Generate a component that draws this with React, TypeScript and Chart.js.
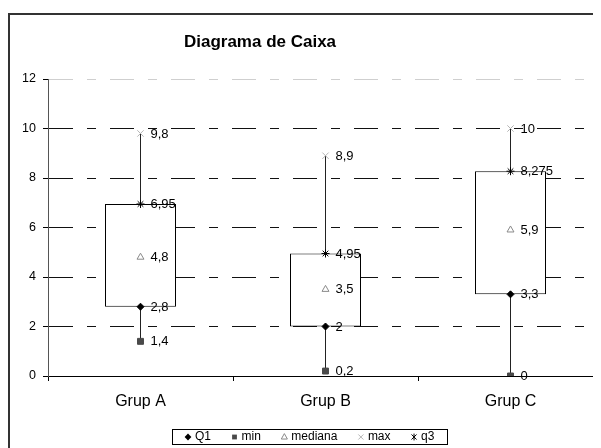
import React, { useEffect, useRef } from 'react';
import { Chart, registerables } from 'chart.js';

Chart.register(...registerables);

const categories = ['Grup A', 'Grup B', 'Grup C'];
const q1 = [2.8, 2, 3.3];
const minV = [1.4, 0.2, 0];
const mediana = [4.8, 3.5, 5.9];
const maxV = [9.8, 8.9, 10];
const q3 = [6.95, 4.95, 8.275];
const yTicks = [0, 2, 4, 6, 8, 10, 12];
const seriesNames = ['Q1', 'min', 'mediana', 'max', 'q3'];
const chartTitle = 'Diagrama de Caixa';

const FONT = '"Liberation Sans", Arial, Helvetica, sans-serif';
const fmt = (v: number) => String(v).replace('.', ',');

type MarkerStyle = { style: string; fill: string; stroke: string; radius: number };
const markers: MarkerStyle[] = [
  { style: 'rectRot', fill: '#000000', stroke: '#000000', radius: 3.5 },
  { style: 'rect', fill: '#4a4a4a', stroke: '#4a4a4a', radius: 4.2 },
  { style: 'triangle', fill: 'rgba(255,255,255,0)', stroke: '#8a8a8a', radius: 4 },
  { style: 'crossRot', fill: 'rgba(0,0,0,0)', stroke: '#b5b5b5', radius: 4.5 },
  { style: 'star', fill: 'rgba(0,0,0,0)', stroke: '#000000', radius: 4 },
];

function drawMarker(ctx: CanvasRenderingContext2D, m: MarkerStyle, x: number, y: number, r: number) {
  ctx.save();
  ctx.lineWidth = 1;
  ctx.strokeStyle = m.stroke;
  ctx.fillStyle = m.fill;
  ctx.beginPath();
  if (m.style === 'rectRot') {
    ctx.moveTo(x, y - r);
    ctx.lineTo(x + r, y);
    ctx.lineTo(x, y + r);
    ctx.lineTo(x - r, y);
    ctx.closePath();
    ctx.fill();
  } else if (m.style === 'rect') {
    const s = r * Math.SQRT1_2;
    ctx.rect(x - s, y - s, 2 * s, 2 * s);
    ctx.fill();
  } else if (m.style === 'triangle') {
    ctx.moveTo(x, y - r);
    ctx.lineTo(x + r * 0.9, y + r * 0.6);
    ctx.lineTo(x - r * 0.9, y + r * 0.6);
    ctx.closePath();
    ctx.stroke();
  } else if (m.style === 'crossRot') {
    const s = r * 0.75;
    ctx.moveTo(x - s, y - s);
    ctx.lineTo(x + s, y + s);
    ctx.moveTo(x + s, y - s);
    ctx.lineTo(x - s, y + s);
    ctx.stroke();
  } else if (m.style === 'star') {
    const s = r * 0.75;
    ctx.moveTo(x - s, y - s);
    ctx.lineTo(x + s, y + s);
    ctx.moveTo(x + s, y - s);
    ctx.lineTo(x - s, y + s);
    ctx.moveTo(x, y - r);
    ctx.lineTo(x, y + r);
    ctx.stroke();
  }
  ctx.restore();
}

const valueLabelPlugin = {
  id: 'valueLabels',
  afterDatasetsDraw(chart: any) {
    const ctx: CanvasRenderingContext2D = chart.ctx;
    ctx.save();
    ctx.font = `13px ${FONT}`;
    ctx.fillStyle = '#000';
    ctx.textAlign = 'left';
    ctx.textBaseline = 'middle';
    chart.data.datasets.forEach((ds: any, di: number) => {
      if (ds.type !== 'line') return;
      const meta = chart.getDatasetMeta(di);
      meta.data.forEach((el: any, i: number) => {
        ctx.fillText(fmt(ds.data[i]), el.x + 10, el.y + 0.5);
      });
    });
    ctx.restore();
  },
};

const titleLegendPlugin = {
  id: 'titleLegend',
  afterDraw(chart: any) {
    const ctx: CanvasRenderingContext2D = chart.ctx;
    ctx.save();
    // title
    ctx.font = `bold 17px ${FONT}`;
    ctx.fillStyle = '#000';
    ctx.textAlign = 'center';
    ctx.textBaseline = 'middle';
    ctx.fillText(chartTitle, 250, 27);
    // legend
    const boxX = 162, boxY = 414, boxW = 275, boxH = 15;
    ctx.strokeStyle = '#000';
    ctx.lineWidth = 1;
    ctx.strokeRect(boxX + 0.5, boxY + 0.5, boxW, boxH);
    ctx.font = `12px ${FONT}`;
    ctx.textAlign = 'left';
    const cy = boxY + boxH / 2 + 0.5;
    let x = boxX + 16;
    seriesNames.forEach((name, i) => {
      drawMarker(ctx, markers[i], x, cy, 3.4);
      ctx.fillStyle = '#000';
      ctx.fillText(name, x + 7, cy);
      x += 7 + ctx.measureText(name).width + 23.5;
    });
    ctx.restore();
  },
};

export default function App() {
  const ref = useRef<HTMLCanvasElement | null>(null);

  useEffect(() => {
    if (!ref.current) return;
    Chart.defaults.font.family = FONT;
    Chart.defaults.color = '#000';
    const pointSeries = [q1, minV, mediana, maxV, q3];
    const pointDatasets = pointSeries.map((arr, i) => ({
      type: 'line' as const,
      label: seriesNames[i],
      data: arr,
      showLine: false,
      pointStyle: markers[i].style,
      pointRadius: markers[i].radius,
      pointBackgroundColor: markers[i].fill,
      pointBorderColor: markers[i].stroke,
      pointBorderWidth: 1,
      order: 0,
    }));
    const chart = new Chart(ref.current, {
      type: 'bar',
      data: {
        labels: categories,
        datasets: [
          ...pointDatasets,
          {
            type: 'bar' as const,
            label: 'box',
            data: q1.map((v, i) => [v, q3[i]]),
            backgroundColor: '#ffffff',
            borderColor: '#000000',
            borderWidth: 1,
            borderSkipped: false,
            barThickness: 71,
            inflateAmount: 0,
            grouped: false,
            order: 1,
          },
          {
            type: 'bar' as const,
            label: 'whisker',
            data: minV.map((v, i) => [v, maxV[i]]),
            backgroundColor: '#222222',
            borderWidth: 0,
            barThickness: 1,
            inflateAmount: 0,
            grouped: false,
            order: 2,
          },
        ] as any,
      },
      options: {
        responsive: false,
        animation: false,
        devicePixelRatio: 1,
        layout: { padding: { top: 64, left: 0, right: 45, bottom: 67 } },
        plugins: {
          legend: { display: false },
          title: { display: false },
          tooltip: { enabled: false },
        },
        scales: {
          x: {
            type: 'category',
            offset: true,
            afterFit: (s: any) => { s.height = 50; },
            grid: {
              display: true,
              offset: true,
              drawOnChartArea: false,
              drawTicks: true,
              tickLength: 5,
              color: '#000',
              tickColor: '#000',
            },
            border: { display: true, color: '#000', width: 1 },
            ticks: { font: { size: 16, family: FONT }, color: '#000', padding: 11, maxRotation: 0 },
          },
          y: {
            type: 'linear',
            min: 0,
            max: 12,
            afterFit: (s: any) => { s.width = 38; },
            afterBuildTicks: (s: any) => { s.ticks = yTicks.map((v) => ({ value: v })); },
            grid: {
              display: true,
              drawOnChartArea: true,
              drawTicks: true,
              tickLength: 5,
              color: (c: any) => (c.tick && c.tick.value === 0 ? 'rgba(0,0,0,0)' : c.tick && c.tick.value === 12 ? '#cfcfcf' : '#111'),
              tickColor: '#000',
              tickBorderDash: [],
            },
            border: { display: true, color: '#555', width: 1, dash: [24, 14, 9, 14] },
            ticks: { font: { size: 12.5, family: FONT }, color: '#000', padding: 7 },
          },
        },
      } as any,
      plugins: [valueLabelPlugin, titleLegendPlugin],
    });
    return () => chart.destroy();
  }, []);

  return (
    <div style={{ width: 593, height: 440, overflow: 'hidden', paddingTop: 5, boxSizing: 'border-box', background: '#fff' }}>
      <div style={{ width: 640, height: 480, borderLeft: '2px solid #333', borderTop: '2px solid #333' }}>
        <canvas ref={ref} width={638} height={478} style={{ display: 'block', width: 638, height: 478 }} />
      </div>
    </div>
  );
}
